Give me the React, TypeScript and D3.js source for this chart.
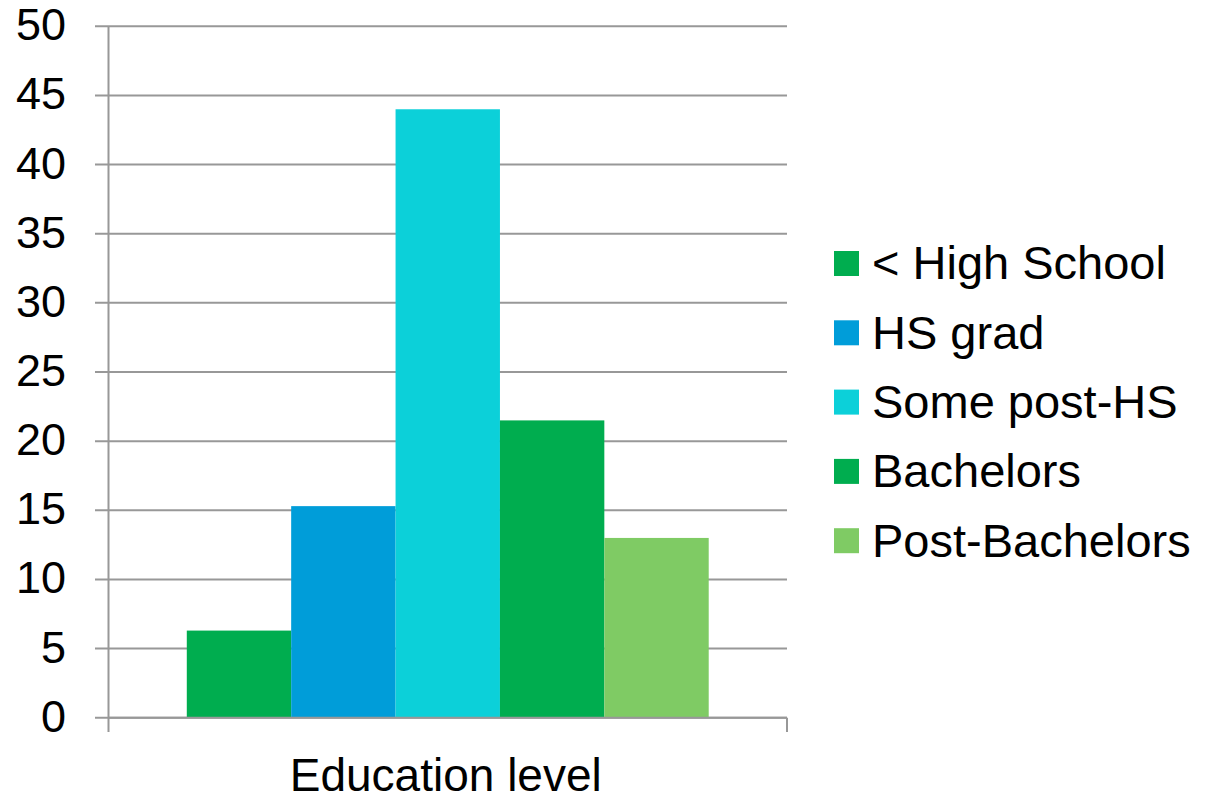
import React from "react";
import * as d3 from "d3";

const categories = ["Education level"];
const seriesNames = ["< High School", "HS grad", "Some post-HS", "Bachelors", "Post-Bachelors"];
const seriesValues = [6.3, 15.3, 44.0, 21.5, 13.0];
const seriesColors = ["#00AD4F", "#009DD9", "#0CD0D9", "#00AD4F", "#7FCB64"];
const yTicks = [0, 5, 10, 15, 20, 25, 30, 35, 40, 45, 50];

const W = 1210;
const H = 794;
const left = 108.5;
const right = 787;
const top = 26.3;
const bottom = 717.7;
const font = "Arial, 'Liberation Sans', sans-serif";
const gridColor = "#989898";

export default function App() {
  const y = d3.scaleLinear().domain([0, 50]).range([bottom, top]);
  const x0 = d3.scaleBand<string>().domain(categories).range([left, right]).paddingInner(0).paddingOuter(0.15);
  const x1 = d3.scaleBand<string>().domain(seriesNames).range([0, x0.bandwidth()]).padding(0);

  return (
    <svg width={W} height={H} style={{ position: "absolute", left: 0, top: 0, background: "#fff" }}>
      {yTicks.map((t) => (
        <g key={t}>
          <line x1={95} x2={right} y1={y(t)} y2={y(t)} stroke={gridColor} strokeWidth={2} />
          <text x={66} y={y(t) + 14} fontSize={45} fontFamily={font} textAnchor="end" fill="#000">
            {t}
          </text>
        </g>
      ))}
      <line x1={left} x2={left} y1={top} y2={732} stroke={gridColor} strokeWidth={2} />
      <line x1={right} x2={right} y1={bottom} y2={732} stroke={gridColor} strokeWidth={2} />
      {categories.map((c) => (
        <g key={c}>
          {seriesNames.map((s, i) => (
            <rect
              key={s}
              x={(x0(c) ?? 0) + (x1(s) ?? 0)}
              y={y(seriesValues[i])}
              width={x1.bandwidth()}
              height={y(0) - y(seriesValues[i])}
              fill={seriesColors[i]}
            />
          ))}
          <text
            x={(x0(c) ?? 0) + x0.bandwidth() / 2 - 2}
            y={791}
            fontSize={46}
            fontFamily={font}
            textAnchor="middle"
            fill="#000"
          >
            {c}
          </text>
        </g>
      ))}
      <line x1={left} x2={right} y1={bottom} y2={bottom} stroke={gridColor} strokeWidth={2} />
      {seriesNames.map((s, i) => (
        <g key={s} transform={`translate(834, ${251 + i * 69.3})`}>
          <rect x={0} y={0} width={25} height={25} fill={seriesColors[i]} />
          <text x={38} y={28.3} fontSize={47} fontFamily={font} fill="#000">
            {s}
          </text>
        </g>
      ))}
    </svg>
  );
}
